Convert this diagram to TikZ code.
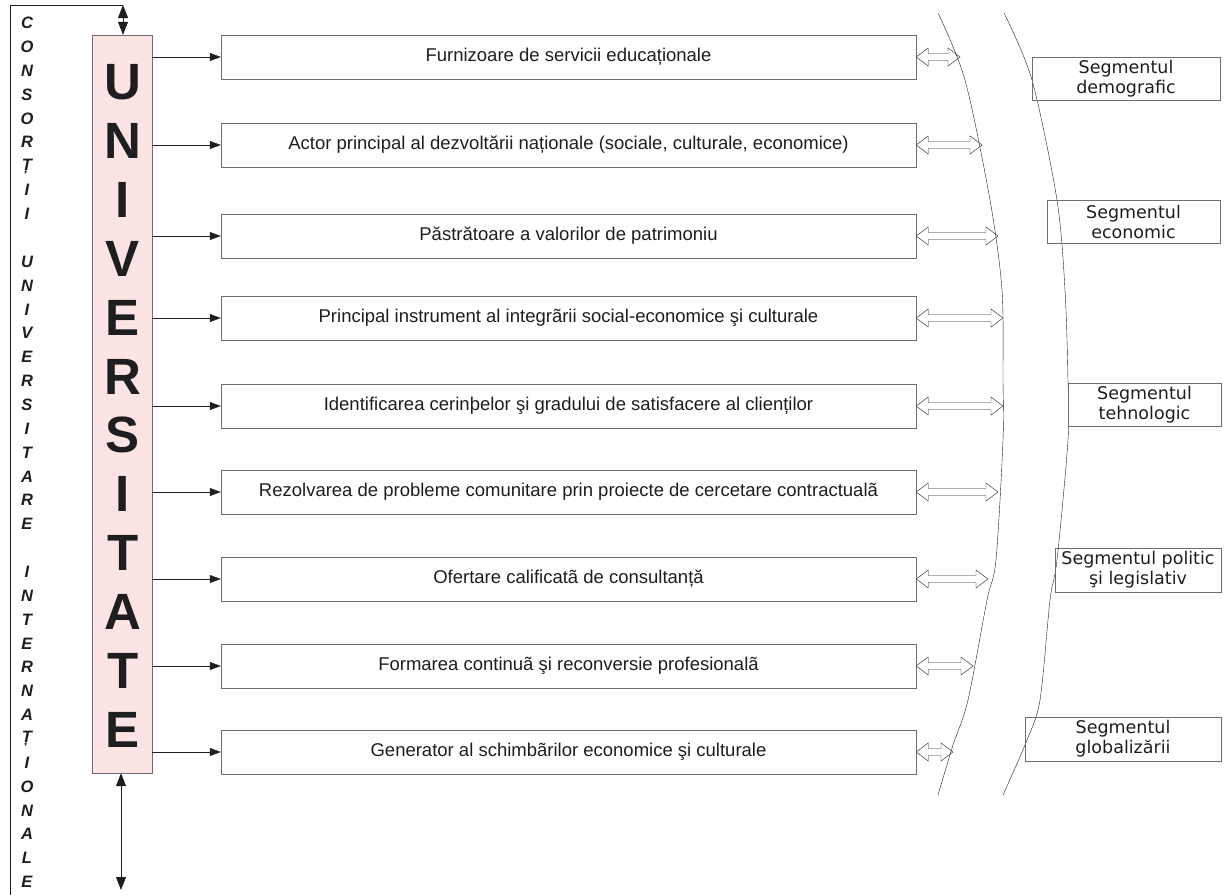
\documentclass[tikz,border=0pt]{standalone}
\usepackage{fontspec}
\setmainfont{Liberation Sans}
\newfontfamily\segfont{DejaVu Sans}
\usetikzlibrary{arrows.meta,positioning,calc}
\definecolor{ink}{RGB}{30,30,30}
\definecolor{pinkfill}{RGB}{252,228,228}
\definecolor{edge}{RGB}{110,110,110}
\tikzset{
  univbox/.style={draw=edge,fill=pinkfill,minimum width=60pt,minimum height=738pt,inner sep=0pt},
  bigletter/.style={font=\fontsize{51}{51}\selectfont\bfseries,inner sep=0pt},
  colletter/.style={font=\fontsize{16.5}{17}\selectfont\bfseries\itshape,inner sep=0pt},
  rolebox/.style={draw=edge,minimum width=695pt,minimum height=44pt,inner sep=0pt,font=\fontsize{18.5}{19}\selectfont},
  segbox/.style={draw=edge,inner sep=1pt,align=center,font=\segfont\fontsize{17.5}{20}\selectfont},
  arr/.style={-{Triangle[length=11pt,width=8pt]},thin},
  tarr/.style={{Triangle[length=13pt,width=10pt]}-{Triangle[length=13pt,width=10pt]},thick},
  dblarr/.style={draw=ink,fill=white,line join=miter},
}
% hollow two-headed block arrow between two points on one level
\newcommand{\blockarrow}[2]{%
  \draw[dblarr] (#1) -- ++(12,-9) -- ++(0,5.5) -- ($(#2)+(-12,-3.5)$) -- ++(0,-5.5)
    -- (#2) -- ++(-12,9) -- ++(0,-5.5) -- ($(#1)+(12,3.5)$) -- ++(0,5.5) -- cycle;}

\begin{document}
\begin{tikzpicture}[x=1pt,y=-1pt,ink]
\useasboundingbox (0,0) rectangle (1224,895);
% left frame for the consortia
\foreach \ch [count=\k from 0] in {C,O,N,S,O,R,Ț,I,I,{},U,N,I,V,E,R,S,I,T,A,R,E,{},I,N,T,E,R,N,A,Ț,I,O,N,A,L,E}
  \node[colletter] (cl\k) at (27,23+23.86*\k) {\ch};
\coordinate (fr1) at (10,895);
\coordinate (fr2) at (10,5);
\coordinate (ctop) at (123,5);
\coordinate (cbot) at (121,890);
\draw (fr1) -- (fr2) -- (ctop);

% the university column
\node[univbox] (univ) at (122,404) {};
\foreach \ch [count=\k from 0] in {U,N,I,V,E,R,S,I,T,A,T,E}
  \node[bigletter] (ul\k) at (123,82+58.9*\k) {\ch};
\draw[tarr] (ctop) -- (univ.north -| ctop);
\draw[tarr] (univ.south -| cbot) -- (cbot);

% roles of the university
\foreach \i/\yy/\ax/\txt in {
  1/57/960/{Furnizoare de servicii educaționale},
  2/145/982/{Actor principal al dezvoltării naționale (sociale, culturale, economice)},
  3/236/998/{Păstrătoare a valorilor de patrimoniu},
  4/318/1003/{Principal instrument al integrãrii social-economice şi culturale},
  5/406/1003/{Identificarea cerinþelor şi gradului de satisfacere al clienților},
  6/492/998/{Rezolvarea de probleme comunitare prin proiecte de cercetare contractualã},
  7/579/988/{Ofertare calificatã de consultanță},
  8/666/973/{Formarea continuã şi reconversie profesionalã},
  9/752/953/{Generator al schimbãrilor economice şi culturale}} {
  \node[rolebox] (r\i) at (568.5,\yy) {\txt};
  \coordinate (c\i) at (\ax,\yy);
  \draw[arr] (univ.east |- r\i.west) -- (r\i.west);
  \blockarrow{r\i.east}{c\i}
}

% environment arcs
\draw plot[smooth] coordinates {(938,13) (965,80) (990,200) (1002,290) (1003,380) (1003,440) (996,560) (987,600) (968,700) (953,745) (938,795)};
\draw plot[smooth] coordinates {(1004,13) (1032,80) (1057,200) (1065,290) (1068,380) (1068,440) (1057,560) (1050,600) (1040,700) (1027,740) (1003,795)};

% segments
\node[segbox,minimum width=188pt,minimum height=43pt] (seg1) at (1126,78.5) {Segmentul\\demografic};
\node[segbox,minimum width=173pt,minimum height=43pt] (seg2) at (1133.5,221.5) {Segmentul\\economic};
\node[segbox,minimum width=153pt,minimum height=43pt] (seg3) at (1144.5,404.5) {Segmentul\\tehnologic};
\node[segbox,minimum width=166pt,minimum height=44pt] (seg4) at (1138,570) {Segmentul politic\\şi legislativ};
\node[segbox,minimum width=196pt,minimum height=44pt] (seg5) at (1123,739) {Segmentul\\globalizării};
\end{tikzpicture}
\end{document}
